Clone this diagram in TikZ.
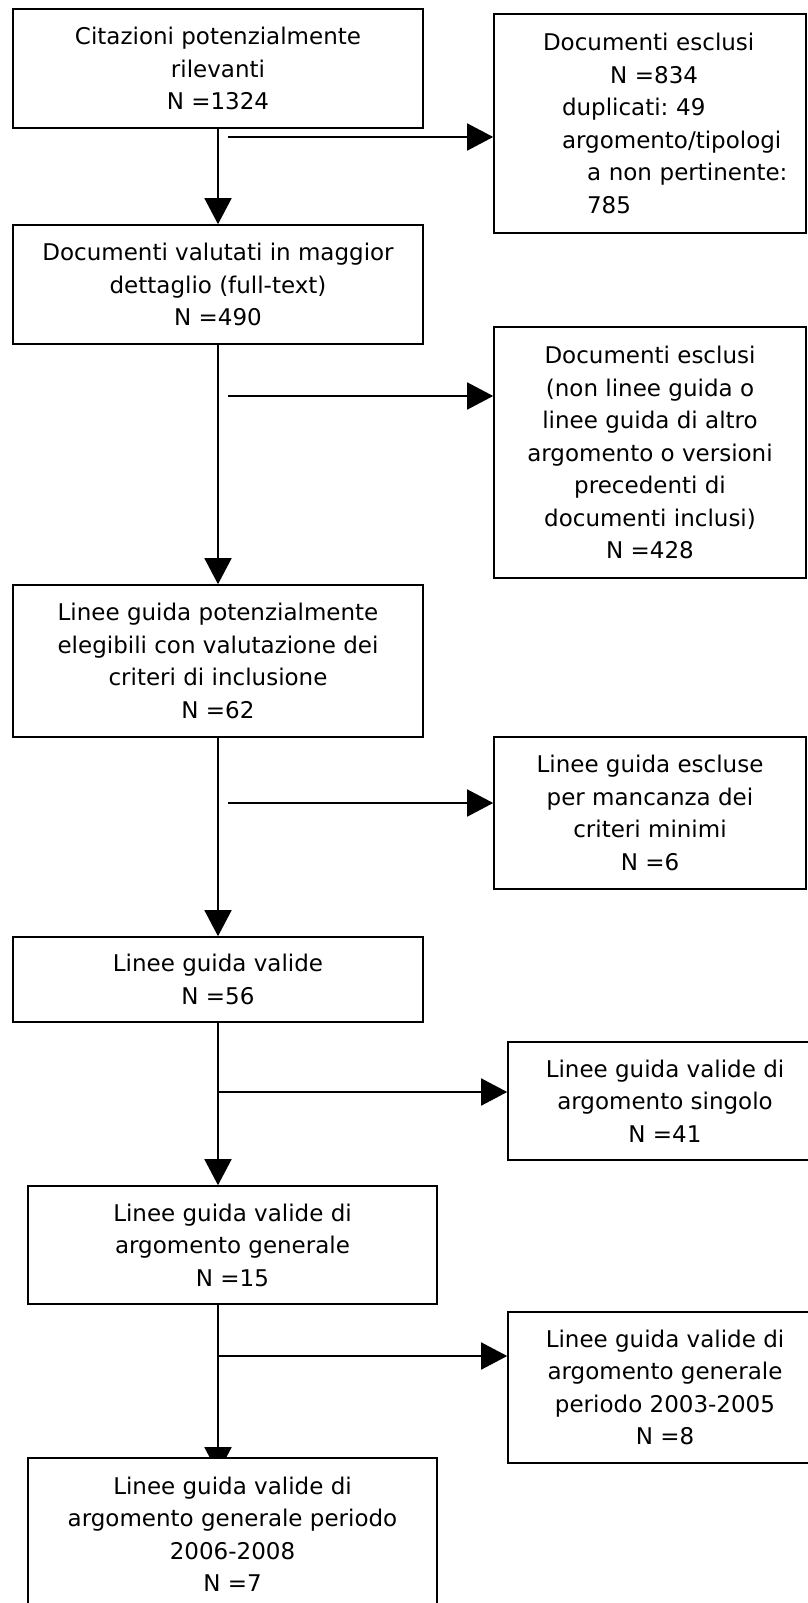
\documentclass[tikz,border=0pt]{standalone}
\usepackage{fontspec}
\setmainfont{DejaVu Sans}
\usetikzlibrary{arrows.meta,backgrounds}
\tikzstyle{blk}=[draw,line width=1.6pt,fill=white,align=center,inner sep=0pt,
  font=\fontsize{23}{32.5}\selectfont]
\tikzstyle{flow}=[line width=1.6pt,-{Triangle[length=26pt,width=27pt]}]
\frenchspacing

\begin{document}
\begin{tikzpicture}[x=1pt,y=-1pt]
\useasboundingbox (0,0) rectangle (808,1603);
% colonna principale
\node[blk,minimum width=410pt,minimum height=119pt] (cit) at (218,68.5)
  {Citazioni potenzialmente\\rilevanti\\N =1324};
\node[blk,minimum width=410pt,minimum height=119pt] (val) at (218,284.5)
  {Documenti valutati in maggior\\dettaglio (full-text)\\N =490};
\node[blk,minimum width=410pt,minimum height=152pt] (pot) at (218,661)
  {Linee guida potenzialmente\\elegibili con valutazione dei\\criteri di inclusione\\N =62};
\node[blk,minimum width=410pt,minimum height=85pt] (vld) at (218,979.5)
  {Linee guida valide\\N =56};
\node[blk,minimum width=409pt,minimum height=118pt] (gen) at (232.5,1245)
  {Linee guida valide di\\argomento generale\\N =15};
\node[blk,minimum width=409pt,minimum height=152pt] (fin) at (232.5,1534)
  {Linee guida valide di\\argomento generale periodo\\2006-2008\\N =7};
% esclusi
\node[blk,minimum width=312pt,minimum height=219pt,text width=290pt,align=left] (ex1) at (650,123.5)
  {\hspace*{38pt}Documenti esclusi\\\hspace*{105pt}N =834\\\hspace*{57pt}duplicati: 49\\
   \hspace*{57pt}argomento/tipologi\\\hspace*{82pt}a non pertinente:\\\hspace*{82pt}785};
\node[blk,minimum width=312pt,minimum height=251pt] (ex2) at (650,452.5)
  {Documenti esclusi\\(non linee guida o\\linee guida di altro\\argomento o versioni\\precedenti di\\documenti inclusi)\\N =428};
\node[blk,minimum width=312pt,minimum height=152pt] (ex3) at (650,813)
  {Linee guida escluse\\per mancanza dei\\criteri minimi\\N =6};
\node[blk,minimum width=314pt,minimum height=118pt] (ex4) at (665,1101)
  {Linee guida valide di\\argomento singolo\\N =41};
\node[blk,minimum width=314pt,minimum height=151pt] (ex5) at (665,1387.5)
  {Linee guida valide di\\argomento generale\\periodo 2003-2005\\N =8};

\coordinate (h1) at (228,137);
\coordinate (h2) at (228,396);
\coordinate (h3) at (228,803);
\coordinate (h4) at (218,1092);
\coordinate (h5) at (218,1356);

\begin{scope}[on background layer]
  \foreach \from/\to in {cit/val,val/pot,pot/vld}
    \draw[flow] (\from) -- (\to);
  \draw[flow] (vld.south) -- (vld.south |- gen.north);
  \draw[flow,shorten >=-16pt] (vld.south |- gen.south) -- (vld.south |- fin.north);
  \foreach \c/\r in {h1/ex1,h2/ex2,h3/ex3,h4/ex4,h5/ex5}
    \draw[flow] (\c) -- (\c -| \r.west);
\end{scope}
\end{tikzpicture}
\end{document}
